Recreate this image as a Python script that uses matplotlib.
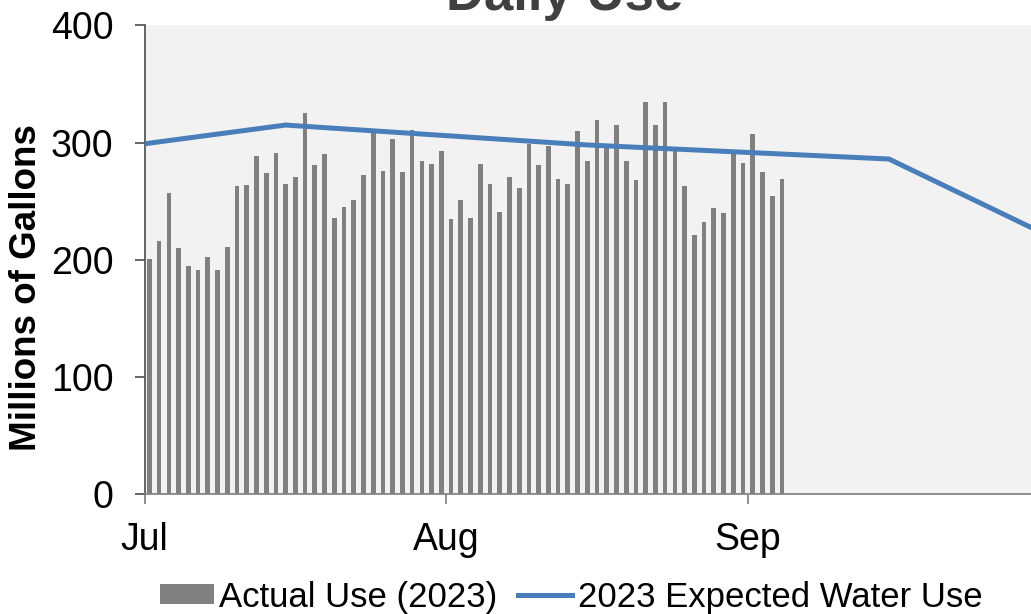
import matplotlib
matplotlib.use("Agg")
import matplotlib.pyplot as plt
import matplotlib.dates as mdates
import pandas as pd

plt.rcParams['font.family'] = ['Liberation Sans', 'DejaVu Sans']

# Daily actual use, Jul 1 - Sep 4 2023 (millions of gallons)
actual_start = '2023-07-01'
actual_use = [201, 216, 257, 210, 195, 191, 202, 191, 211, 263, 264, 289, 274, 291, 265, 271, 325, 281, 290, 236, 245,
              251, 272, 308, 276, 303, 275, 311, 284, 282, 293, 235, 251, 236, 282, 265, 241, 271, 261, 299, 281, 297, 269,
              265, 310, 284, 319, 296, 315, 284, 268, 335, 315, 335, 293, 263, 221, 232, 244, 240, 290, 283, 307, 275, 254, 269]

# Expected use line
expected_dates = ['2023-07-01 00:00', '2023-07-15 12:00', '2023-08-15 12:00', '2023-09-15 12:00', '2023-10-01 12:00']
expected_use = [299, 315, 298, 286, 222]

month_ticks = ['2023-07-01', '2023-08-01', '2023-09-01']
month_labels = ['Jul', 'Aug', 'Sep']

dates = pd.date_range(actual_start, periods=len(actual_use)) + pd.Timedelta(hours=12)
exp_dates = pd.to_datetime(expected_dates)

fig = plt.figure(figsize=(10.31, 6.14), dpi=100)
ax = fig.add_axes([0.1402, 0.1954, 0.8598, 0.7631])
ax.set_facecolor('#f2f2f2')

bars = ax.bar(dates, actual_use, width=0.48, color='#808080', zorder=2, label='Actual Use (2023)')
line, = ax.plot(exp_dates, expected_use, color='#4a7ebb', lw=3.6, zorder=3, solid_joinstyle='miter',
                label='2023 Expected Water Use')

x0 = mdates.date2num(pd.Timestamp(actual_start))
ax.set_xlim(x0, x0 + 91.1)
ax.set_ylim(0, 400)
ax.set_yticks([0, 100, 200, 300, 400])
ax.set_xticks(mdates.date2num(pd.to_datetime(month_ticks)))
ax.set_xticklabels(month_labels)

for s in ['top', 'right']:
    ax.spines[s].set_visible(False)
ax.spines['left'].set_color('#595959')
ax.spines['bottom'].set_color('#868686')
ax.spines['left'].set_linewidth(1.3)
ax.spines['bottom'].set_linewidth(1.3)
ax.tick_params(axis='y', length=7.5, width=1.3, color='#595959', pad=15, labelsize=27)
ax.tick_params(axis='x', length=7.5, width=1.3, color='#868686', pad=13, labelsize=27)

fig.text(27 / 1031, 0.531, 'Millions of Gallons', rotation=90, ha='center', va='center',
         fontsize=26.5, fontweight='bold')
fig.text(565 / 1031, 1 - 10 / 614, 'Daily Use', ha='center', va='baseline',
         fontsize=38, fontweight='bold', color='#404040')

fig.legend(handles=[bars, line], loc='center', bbox_to_anchor=(571 / 1031, 1 - 597 / 614), ncol=2,
           frameon=False, fontsize=25, handlelength=1.56, handleheight=0.5, handletextpad=0.15,
           columnspacing=0.6, borderpad=0, borderaxespad=0)

fig.savefig('out.png', dpi=100)
